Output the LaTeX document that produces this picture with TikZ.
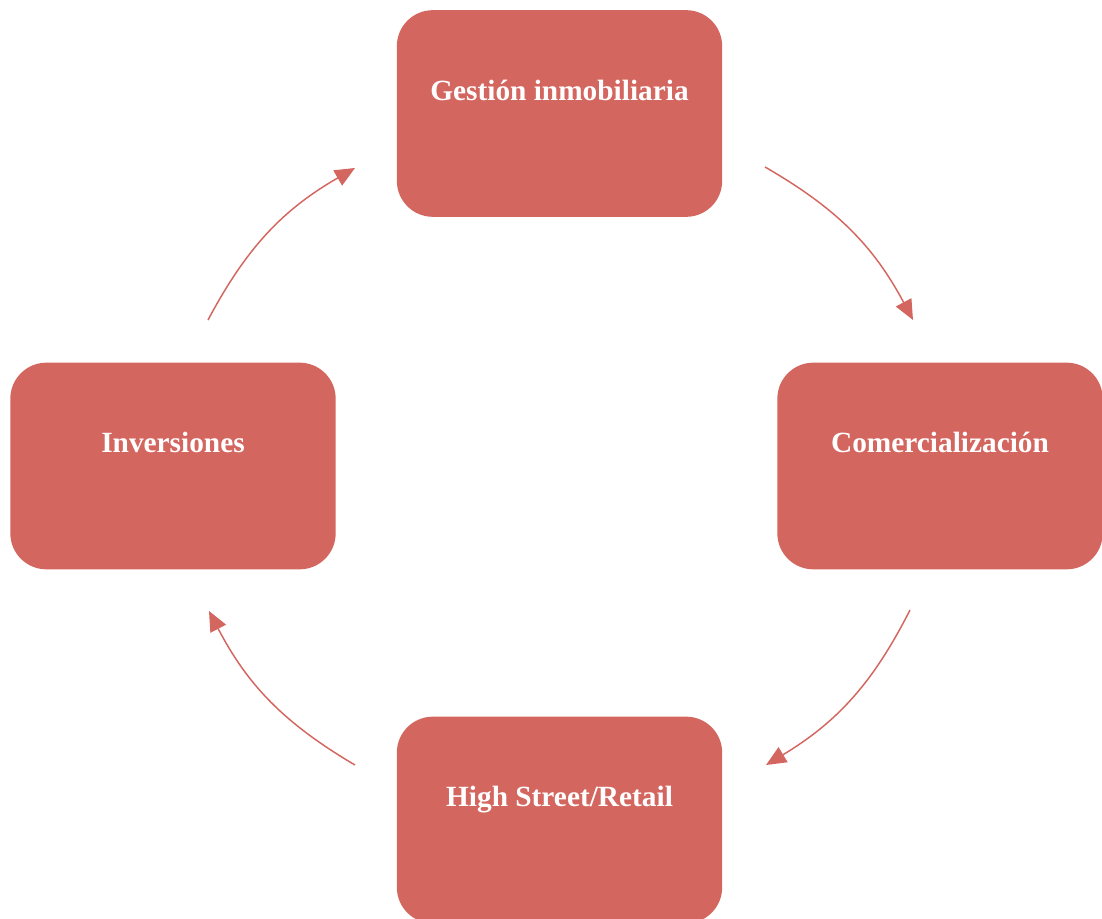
\documentclass[tikz,border=0pt]{standalone}
\usepackage{fontspec}
\setmainfont{Liberation Serif}
\usetikzlibrary{arrows.meta}
\definecolor{boxred}{RGB}{212,102,96}
\begin{document}
\begin{tikzpicture}[x=0.75pt, y=-0.75pt,
	box/.style={rectangle, fill=boxred, rounded corners=27pt, minimum width=244pt, minimum height=155pt, inner sep=0pt, text=white, font=\fontsize{22}{26}\selectfont\bfseries, text height=15pt, text depth=35pt},
	flow/.style={-{Triangle[length=15pt, width=13pt]}, draw=boxred, line width=1.1pt, bend left=16}]
	\useasboundingbox (0,0) rectangle (1102,919);
	\node[box] (Gestion) at (559.5, 113.5) {Gestión inmobiliaria};
	\node[box] (Comercializacion) at (940, 466) {Comercialización};
	\node[box] (Retail) at (559.5, 820) {High Street/Retail};
	\node[box] (Inversiones) at (173, 466) {Inversiones};
	\coordinate (Gestion out) at (765, 167);
	\coordinate (Comercializacion in) at (913, 320);
	\coordinate (Comercializacion out) at (910, 610);
	\coordinate (Retail in) at (766, 765);
	\coordinate (Retail out) at (355, 765);
	\coordinate (Inversiones in) at (209, 611);
	\coordinate (Inversiones out) at (208, 320);
	\coordinate (Gestion in) at (355, 168);
	\draw[flow] (Gestion out) to (Comercializacion in);
	\draw[flow] (Comercializacion out) to (Retail in);
	\draw[flow] (Retail out) to (Inversiones in);
	\draw[flow] (Inversiones out) to (Gestion in);
\end{tikzpicture}
\end{document}
